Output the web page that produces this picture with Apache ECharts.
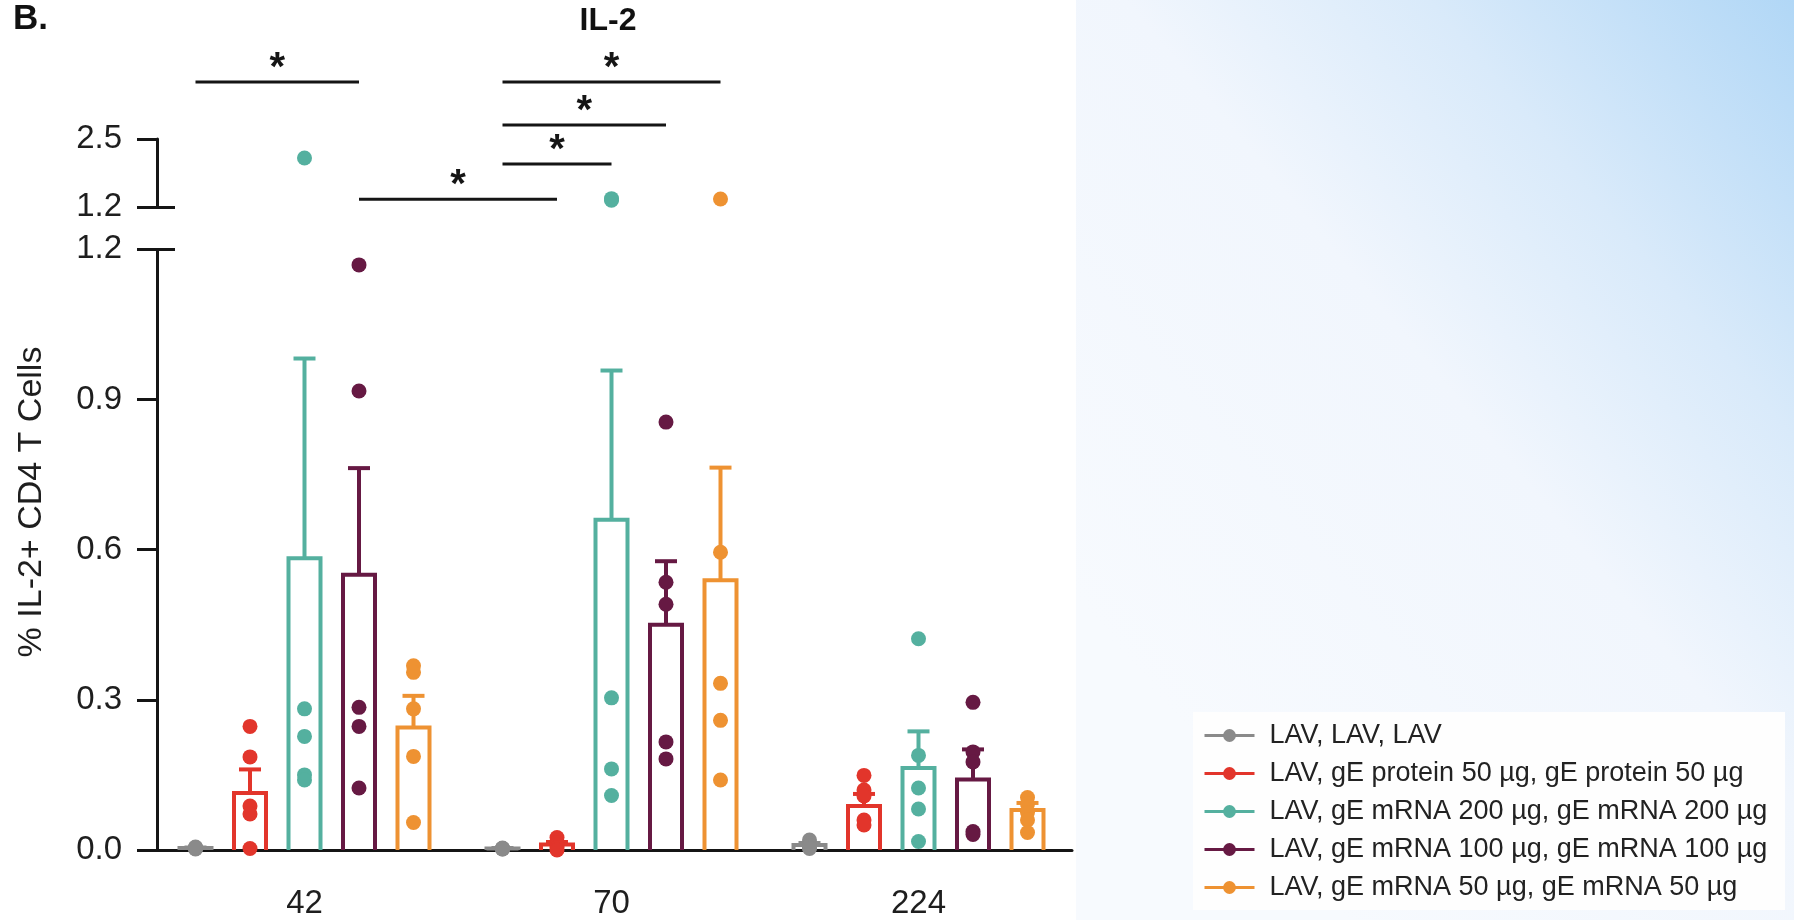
<!DOCTYPE html>
<html>
<head>
<meta charset="utf-8">
<script src="https://cdn.jsdelivr.net/npm/echarts@6/dist/echarts.min.js"></script>
<style>
html,body{margin:0;padding:0;background:#fff;}
#chart{width:1794px;height:920px;}
</style>
</head>
<body>
<div id="chart"></div>
<script>
// ---------------- data ----------------
const categories = ['42', '70', '224'];
const groupNames = [
  'LAV, LAV, LAV',
  'LAV, gE protein 50 µg, gE protein 50 µg',
  'LAV, gE mRNA 200 µg, gE mRNA 200 µg',
  'LAV, gE mRNA 100 µg, gE mRNA 100 µg',
  'LAV, gE mRNA 50 µg, gE mRNA 50 µg'
];
const groupColors = ['#8a8a8a', '#e2352b', '#54b09f', '#661943', '#ee9232'];

const meanLAV      = [0.004, 0.003, 0.010];
const meanProtein  = [0.114, 0.011, 0.088];
const meanMRNA200  = [0.583, 0.660, 0.164];
const meanMRNA100  = [0.550, 0.450, 0.141];
const meanMRNA50   = [0.245, 0.539, 0.080];

const semLAV       = [0.001, 0.001, 0.004];
const semProtein   = [0.047, 0.005, 0.024];
const semMRNA200   = [0.399, 0.298, 0.073];
const semMRNA100   = [0.213, 0.127, 0.060];
const semMRNA50    = [0.063, 0.225, 0.014];

const ptsLAV     = [[0.003, 0.004, 0.005, 0.002, 0.006], [0.002, 0.003, 0.004, 0.003, 0.002], [0.020, 0.012, 0.008, 0.005, 0.003]];
const ptsProtein = [[0.247, 0.186, 0.088, 0.072, 0.003], [0.025, 0.015, 0.010, 0.005, 0.000], [0.149, 0.120, 0.108, 0.060, 0.050]];
const ptsMRNA200 = [[2.137, 0.282, 0.227, 0.150, 0.140], [1.360, 1.330, 0.304, 0.162, 0.109], [0.422, 0.189, 0.124, 0.082, 0.017]];
const ptsMRNA100 = [[1.169, 0.917, 0.285, 0.247, 0.124], [0.855, 0.535, 0.491, 0.216, 0.182], [0.295, 0.196, 0.176, 0.037, 0.031]];
const ptsMRNA50  = [[0.368, 0.355, 0.282, 0.187, 0.055], [1.353, 0.595, 0.333, 0.259, 0.140], [0.105, 0.092, 0.075, 0.060, 0.035]];

// lower axis ticks, upper (broken) axis ticks
const lowerTicks = [0, 0.3, 0.6, 0.9, 1.2];
const upperTicks = [1.2, 2.5];
const breakValue = 1.2;

// significance comparisons: [category, group] -> [category, group], bar level (upper-axis units)
const sigFrom  = [[0, 0], [1, 0], [1, 0], [1, 0], [0, 3]];
const sigTo    = [[0, 3], [1, 4], [1, 3], [1, 2], [1, 1]];
const sigLevel = [3.59, 3.59, 2.77, 2.02, 1.35];
const sigText  = ['*', '*', '*', '*', '*'];

// ---------------- build ----------------
const means = [meanLAV, meanProtein, meanMRNA200, meanMRNA100, meanMRNA50];
const sems  = [semLAV, semProtein, semMRNA200, semMRNA100, semMRNA50];
const pts   = [ptsLAV, ptsProtein, ptsMRNA200, ptsMRNA100, ptsMRNA50];

const FONT = "'Liberation Sans', Arial, sans-serif";
const SPACING = 54.5, BAR_W = 32, CAP_W = 22, LW = 4;
const AXIS_COLOR = '#151515';
const TEXT_COLOR = '#1e1e1e';

const chart = echarts.init(document.getElementById('chart'), null, {renderer: 'canvas'});

const series = [];
// legend proxies
groupNames.forEach((n, gi) => {
  series.push({
    type: 'line', name: n, data: [], xAxisIndex: 0, yAxisIndex: 0,
    color: groupColors[gi], symbol: 'circle', symbolSize: 13,
    lineStyle: {width: 3, color: groupColors[gi]}, itemStyle: {color: groupColors[gi]}
  });
});

function barRenderer(gi) {
  return function (params, api) {
    const c = api.value(0);
    const m = api.value(1), s = api.value(2);
    const base = api.coord([c, 0]);
    const top = api.coord([c, m]);
    const cap = api.coord([c, m + s]);
    const cx = base[0] + (gi - 2) * SPACING;
    const col = groupColors[gi];
    const st = {stroke: col, lineWidth: LW, fill: null};
    return {
      type: 'group',
      children: [
        {type: 'polyline', shape: {points: [[cx - BAR_W / 2, base[1]], [cx - BAR_W / 2, top[1]], [cx + BAR_W / 2, top[1]], [cx + BAR_W / 2, base[1]]]}, style: st},
        {type: 'line', shape: {x1: cx, y1: top[1], x2: cx, y2: cap[1]}, style: {stroke: col, lineWidth: LW}},
        {type: 'line', shape: {x1: cx - CAP_W / 2, y1: cap[1], x2: cx + CAP_W / 2, y2: cap[1]}, style: {stroke: col, lineWidth: LW}}
      ]
    };
  };
}

groupNames.forEach((n, gi) => {
  series.push({
    type: 'custom', name: n, xAxisIndex: 0, yAxisIndex: 0, z: 3, clip: false,
    renderItem: barRenderer(gi),
    encode: {x: 0, y: 1},
    data: categories.map((c, i) => [i, means[gi][i], sems[gi][i]])
  });
});

groupNames.forEach((n, gi) => {
  const low = [], high = [];
  pts[gi].forEach((arr, i) => arr.forEach(v => (v > breakValue ? high : low).push([i, v])));
  const common = {
    type: 'scatter', name: n, symbol: 'circle', symbolSize: 15, z: 5,
    symbolOffset: [(gi - 2) * SPACING, 0],
    itemStyle: {color: groupColors[gi], opacity: 1}
  };
  series.push(Object.assign({}, common, {xAxisIndex: 0, yAxisIndex: 0, data: low}));
  series.push(Object.assign({}, common, {xAxisIndex: 1, yAxisIndex: 2, data: high}));
});

series.push({
  type: 'custom', name: 'sig', xAxisIndex: 1, yAxisIndex: 2, z: 6, clip: false,
  encode: {x: 0, y: 4},
  data: sigFrom.map((f, k) => [f[0], f[1], sigTo[k][0], sigTo[k][1], sigLevel[k]]),
  renderItem: function (params, api) {
    const lv = api.value(4);
    const a = api.coord([api.value(0), lv]);
    const b = api.coord([api.value(2), lv]);
    const x1 = a[0] + (api.value(1) - 2) * SPACING;
    const x2 = b[0] + (api.value(3) - 2) * SPACING;
    const y = a[1];
    return {
      type: 'group',
      children: [
        {type: 'line', shape: {x1: x1, y1: y, x2: x2, y2: y}, style: {stroke: AXIS_COLOR, lineWidth: 3}},
        {type: 'text', x: (x1 + x2) / 2, y: y - 13, style: {text: sigText[params.dataIndex], font: "bold 40px " + FONT, fill: AXIS_COLOR, align: 'center', verticalAlign: 'middle'}}
      ]
    };
  }
});

const labelStyle = {fontFamily: FONT, fontSize: 33, color: TEXT_COLOR};

const option = {
  backgroundColor: '#fff',
  animation: false,
  title: [
    {text: 'B.', left: 13, top: 2, padding: 0, textStyle: {fontFamily: FONT, fontSize: 35, fontWeight: 'bold', color: '#111'}},
    {text: 'IL-2', left: 608, textAlign: 'center', top: 5, padding: 0, textStyle: {fontFamily: FONT, fontSize: 32, fontWeight: 'bold', color: '#111'}}
  ],
  graphic: [
    {type: 'rect', z: -10, silent: true, shape: {x: 1076, y: 0, width: 718, height: 920},
      style: {fill: new echarts.graphic.LinearGradient(0, 0.65, 1, 0, [
        {offset: 0, color: '#f7fafe'}, {offset: 0.45, color: '#f1f6fd'},
        {offset: 0.7, color: '#d9eafa'}, {offset: 1, color: '#b1d7f6'}])}},
    {type: 'rect', z: -5, silent: true, shape: {x: 1193, y: 712, width: 592, height: 198}, style: {fill: '#fefefe'}}
  ],
  legend: {
    data: groupNames, orient: 'vertical', left: 1203, top: 722, padding: 0,
    itemWidth: 50, itemHeight: 16, itemGap: 11,
    lineStyle: {width: 3},
    textStyle: {fontFamily: FONT, fontSize: 27, color: '#222', padding: [0, 0, 0, 10]},
    selectedMode: false
  },
  grid: [
    {left: 151, right: 722, top: 249.4, bottom: 66.5},
    {left: 151, right: 722, top: 139, height: 68},
    {left: 157, right: 722, top: 150, bottom: 66}
  ],
  xAxis: [
    {type: 'category', gridIndex: 0, data: categories, boundaryGap: true,
      axisLine: {lineStyle: {color: AXIS_COLOR, width: 3}},
      axisTick: {alignWithLabel: true, length: 16, lineStyle: {color: AXIS_COLOR, width: 3}},
      axisLabel: Object.assign({margin: 37}, labelStyle), splitLine: {show: false}},
    {type: 'category', gridIndex: 1, data: categories, boundaryGap: true, show: false},
    {type: 'value', gridIndex: 2, show: false, min: 0, max: 1}
  ],
  yAxis: [
    {type: 'value', gridIndex: 0, position: 'left', min: 0, max: 1.2, interval: 0.3, offset: -6,
      axisLine: {show: true, lineStyle: {color: AXIS_COLOR, width: 3}},
      axisTick: {show: true, length: 20, lineStyle: {color: AXIS_COLOR, width: 3}},
      axisLabel: Object.assign({margin: 35, formatter: v => v.toFixed(1), customValues: lowerTicks}, labelStyle),
      splitLine: {show: false}},
    {type: 'value', gridIndex: 0, position: 'left', min: 0, max: 1.2, offset: -6,
      axisLine: {show: false}, axisLabel: {show: false}, splitLine: {show: false},
      axisTick: {show: true, inside: true, length: 18, customValues: [breakValue], lineStyle: {color: AXIS_COLOR, width: 3}}},
    {type: 'value', gridIndex: 1, position: 'left', min: 1.2, max: 2.5, offset: -6,
      axisLine: {show: true, lineStyle: {color: AXIS_COLOR, width: 3}},
      axisTick: {show: true, length: 20, customValues: upperTicks, lineStyle: {color: AXIS_COLOR, width: 3}},
      axisLabel: Object.assign({margin: 35, formatter: v => v.toFixed(1), customValues: upperTicks}, labelStyle),
      splitLine: {show: false}},
    {type: 'value', gridIndex: 1, position: 'left', min: 1.2, max: 2.5, offset: -6,
      axisLine: {show: false}, axisLabel: {show: false}, splitLine: {show: false},
      axisTick: {show: true, inside: true, length: 18, customValues: [breakValue], lineStyle: {color: AXIS_COLOR, width: 3}}},
    {type: 'value', gridIndex: 2, position: 'left', min: 0, max: 1, name: '% IL-2+ CD4 T Cells', nameLocation: 'middle', nameGap: 108,
      nameTextStyle: {fontFamily: FONT, fontSize: 34, color: TEXT_COLOR},
      axisLine: {show: false}, axisTick: {show: false}, axisLabel: {show: false}, splitLine: {show: false}}
  ],
  series: series
};

chart.setOption(option);
</script>
</body>
</html>
